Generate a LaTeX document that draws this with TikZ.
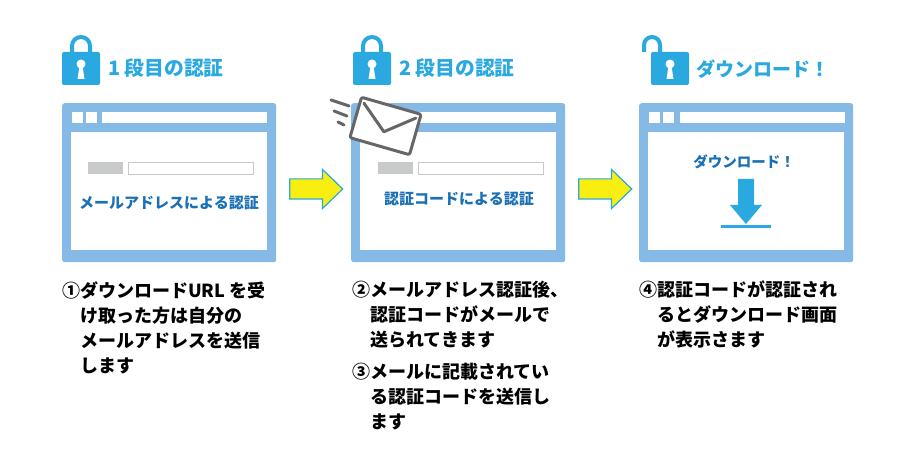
\documentclass[tikz,border=0pt]{standalone}
\usepackage{fontspec}
\setmainfont{Noto Sans CJK JP}
\usetikzlibrary{shapes.arrows}
\definecolor{winblue}{HTML}{85B9E6}
\definecolor{lockblue}{HTML}{29A9E0}
\definecolor{textblue}{HTML}{1A6FB5}
\definecolor{arrowyellow}{HTML}{F8EE10}
\definecolor{fieldgray}{HTML}{C8C9C9}
\definecolor{mailgray}{HTML}{666666}
\tikzset{
	winframe/.style={anchor=north west,fill=winblue,rounded corners=2.5pt,minimum width=214pt,minimum height=159pt,inner sep=0pt},
	winpane/.style={anchor=north west,fill=white,minimum width=196pt,minimum height=118pt,inner sep=0pt},
	tabbox/.style={anchor=north west,fill=white,minimum width=11pt,minimum height=11pt,inner sep=0pt},
	barbox/.style={anchor=north west,fill=white,minimum width=165pt,minimum height=11pt,inner sep=0pt},
	graybox/.style={anchor=north west,fill=fieldgray,minimum width=35pt,minimum height=12pt,inner sep=0pt},
	fieldbox/.style={anchor=north west,draw=fieldgray,line width=1.2pt,fill=white,minimum width=125pt,minimum height=12pt,inner sep=0pt},
	headtext/.style={anchor=west,text=lockblue,inner sep=0pt,font=\fontsize{19.8}{20}\selectfont\bfseries},
	wintext/.style={text=textblue,inner sep=0pt,font=\fontsize{15}{15}\selectfont\bfseries},
	bodytext/.style={anchor=north west,align=left,inner sep=0pt,font=\fontsize{18}{25}\selectfont\bfseries},
	yellowarrow/.style={shape=single arrow,draw=lockblue,fill=arrowyellow,line width=1.2pt,inner sep=0pt,text height=19pt,text depth=0pt,minimum height=53pt,minimum width=38pt,single arrow head extend=9.5pt,single arrow tip angle=88},
	lockbody/.style={fill=lockblue,rounded corners=2pt},
	shackle/.style={draw=lockblue,line width=4pt},
	mailline/.style={draw=mailgray,line width=3pt,line cap=round,line join=round}
}
\begin{document}
\begin{tikzpicture}[x=1pt,y=-1pt]
	\useasboundingbox (0,0) rectangle (915,470);

	% left window
	\node[winframe] (frameA) at (62,103) {};
	\node[winpane] (paneA) at (71,132) {};
	\node[tabbox] (tabAa) at (72,112) {};
	\node[tabbox] (tabAb) at (86,112) {};
	\node[barbox] (barA) at (102,112) {};
	\node[graybox] (grayA) at (88,162) {};
	\node[fieldbox] (fieldA) at (128,162) {};
	\node[wintext] (labelA) at (169,203) {メールアドレスによる認証};

	% middle window
	\node[winframe] (frameB) at (351,103) {};
	\node[winpane] (paneB) at (360,132) {};
	\node[tabbox] (tabBa) at (361,112) {};
	\node[tabbox] (tabBb) at (375,112) {};
	\node[barbox] (barB) at (391,112) {};
	\node[graybox] (grayB) at (378,162) {};
	\node[fieldbox] (fieldB) at (418,162) {};
	\node[wintext] (labelB) at (459,199) {認証コードによる認証};

	% right window
	\node[winframe] (frameC) at (639,103) {};
	\node[winpane] (paneC) at (648,132) {};
	\node[tabbox] (tabCa) at (649,112) {};
	\node[tabbox] (tabCb) at (663,112) {};
	\node[barbox] (barC) at (680,112) {};
	\node[wintext,font=\fontsize{14.5}{15}\selectfont\bfseries] (labelC) at (744,162) {ダウンロード！};

	% download sign
	\fill[lockblue] (738,179) -- (754,179) -- (754,205) -- (762,205) -- (746,224) -- (730,205) -- (738,205) -- cycle;
	\draw[lockblue,line width=3pt] (721,227) -- (771,227);

	% arrows between windows
	\node[yellowarrow] (arrowA) at (311,189) {};
	\node[yellowarrow] (arrowB) at (600,189) {};

	% locks
	\draw[shackle] (72,54) -- (72,46) arc (180:360:9) -- (90,54);
	\fill[lockbody] (62,52) rectangle (100,85);
	\fill[white] (81,64) circle (4.5);
	\fill[white] (79.5,66) -- (82.5,66) -- (84.5,79) -- (77.5,79) -- cycle;

	\draw[shackle] (363,54) -- (363,46) arc (180:360:9) -- (381,54);
	\fill[lockbody] (353,52) rectangle (391,85);
	\fill[white] (372,64) circle (4.5);
	\fill[white] (370.5,66) -- (373.5,66) -- (375.5,79) -- (368.5,79) -- cycle;

	\draw[shackle] (644,52) -- (644,45) arc (180:360:8) -- (660,54);
	\fill[lockbody] (651,52) rectangle (689,85);
	\fill[white] (670,64) circle (4.5);
	\fill[white] (668.5,66) -- (671.5,66) -- (673.5,79) -- (666.5,79) -- cycle;

	% headings
	\node[headtext] (headA) at (108,68) {1 段目の認証};
	\node[headtext] (headB) at (399,68) {2 段目の認証};
	\node[headtext,font=\fontsize{19}{20}\selectfont\bfseries] (headC) at (696,69) {ダウンロード！};

	% envelope
	\begin{scope}[shift={(385.5,126)},rotate=-16]
		\draw[mailline,fill=white,rounded corners=2pt] (-31,-21) rectangle (31,21);
		\draw[mailline] (-27,-16) -- (0,6) -- (27,-16);
	\end{scope}
	\draw[mailline] (331,100) -- (349,106);
	\draw[mailline] (334,111) -- (347,116);
	\draw[mailline] (338,122) -- (344,125);

	% descriptions
	\node[bodytext] (stepA) at (62,281) {①ダウンロードURL を受\\\hspace*{18pt}け取った方は自分の\\\hspace*{18pt}メールアドレスを送信\\\hspace*{18pt}します};
	\node[bodytext] (stepB) at (352,281) {②メールアドレス認証後、\\\hspace*{18pt}認証コードがメールで\\\hspace*{18pt}送られてきます};
	\node[bodytext] (stepC) at (352,363) {③メールに記載されてい\\\hspace*{18pt}る認証コードを送信し\\\hspace*{18pt}ます};
	\node[bodytext] (stepD) at (639,281) {④認証コードが認証され\\\hspace*{18pt}るとダウンロード画面\\\hspace*{18pt}が表示さます};
\end{tikzpicture}
\end{document}
